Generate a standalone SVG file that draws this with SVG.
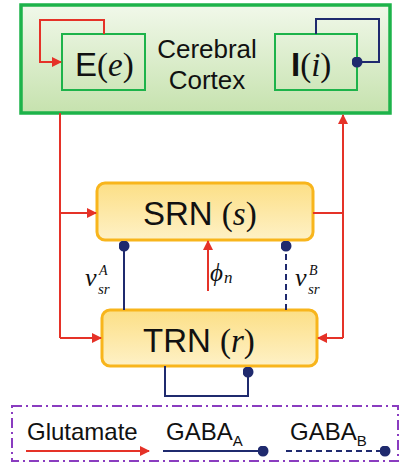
<svg xmlns="http://www.w3.org/2000/svg" width="402" height="464" viewBox="0 0 402 464">
<defs>
<linearGradient id="gGreen" x1="0" y1="0" x2="0" y2="1">
<stop offset="0" stop-color="#f1f8ea"/><stop offset="1" stop-color="#c6e2ae"/>
</linearGradient>
<linearGradient id="gYel" x1="0" y1="0" x2="0" y2="1">
<stop offset="0" stop-color="#fcdf86"/><stop offset="1" stop-color="#fef1c6"/>
</linearGradient>
<marker id="arr" viewBox="0 0 10 10" refX="9" refY="5" markerWidth="10" markerHeight="10" markerUnits="userSpaceOnUse" orient="auto">
<path d="M0,0 L10,5 L0,10 Z" fill="#e53228"/>
</marker>
<marker id="dot" viewBox="0 0 10 10" refX="5" refY="5" markerWidth="11" markerHeight="11" markerUnits="userSpaceOnUse">
<circle cx="5" cy="5" r="5" fill="#1f2a6e"/>
</marker>
</defs>
<style>
.sans{font-family:"Liberation Sans",Arial,sans-serif;fill:#111}
.math{font-family:"Liberation Serif","DejaVu Serif",serif;fill:#111}
.it{font-style:italic}
.red{stroke:#e53228;stroke-width:2;fill:none}
.blue{stroke:#1f2a6e;stroke-width:2;fill:none}
.dash{stroke-dasharray:6,4}
.gbox{stroke:#1db34a;fill:none}
.ybox{stroke:#f8b51c;stroke-width:3;fill:url(#gYel)}
</style>

<g id="cortex">
<rect x="21" y="5" width="369" height="108" fill="url(#gGreen)" stroke="#1db34a" stroke-width="3.5"/>
<text class="sans" x="207" y="58" font-size="26" text-anchor="middle">Cerebral</text>
<text class="sans" x="207" y="89" font-size="26" text-anchor="middle">Cortex</text>
</g>
<g id="E">
<rect class="gbox" x="62" y="34" width="83" height="56" stroke-width="2"/>
<text x="75" y="76" font-size="33"><tspan class="sans">E</tspan><tspan class="math">(</tspan><tspan class="math it">e</tspan><tspan class="math">)</tspan></text>
</g>
<g id="I">
<rect class="gbox" x="275" y="34" width="82" height="56" stroke-width="2"/>
<text x="291" y="76" font-size="33"><tspan class="sans" font-weight="bold">I</tspan><tspan class="math">(</tspan><tspan class="math it">i</tspan><tspan class="math">)</tspan></text>
</g>
<g id="SRN">
<rect class="ybox" x="97" y="183" width="216" height="57" rx="8"/>
<text x="143" y="225" font-size="33"><tspan class="sans">SRN </tspan><tspan class="math">(</tspan><tspan class="math it">s</tspan><tspan class="math">)</tspan></text>
</g>
<g id="TRN">
<rect class="ybox" x="102" y="310" width="215" height="56" rx="8"/>
<text x="143" y="352" font-size="33"><tspan class="sans">TRN </tspan><tspan class="math">(</tspan><tspan class="math it">r</tspan><tspan class="math">)</tspan></text>
</g>

<g id="connectors">
<path class="red" d="M104,34 V20 H40 V62 H61" marker-end="url(#arr)"/>
<path class="blue" d="M316,34 V19 H379 V62 H357" marker-end="url(#dot)"/>
<path class="red" d="M60,113 V338"/>
<path class="red" d="M60,213 H96" marker-end="url(#arr)"/>
<path class="red" d="M60,338 H101" marker-end="url(#arr)"/>
<path class="red" d="M313,213 H343"/>
<path class="red" d="M343,338 V115" marker-end="url(#arr)"/>
<path class="red" d="M343,338 H318" marker-end="url(#arr)"/>
<path class="red" d="M208,291 V241" marker-end="url(#arr)"/>
<path class="blue" d="M124,310 V246" marker-end="url(#dot)"/>
<path class="blue dash" d="M286,310 V246" marker-end="url(#dot)"/>
<path class="blue" d="M165,366 V396 H248 V372" marker-end="url(#dot)"/>
</g>
<g id="labels">
<text class="math it" x="85" y="286" font-size="26">v</text>
<text class="math it" x="99" y="275" font-size="14">A</text>
<text class="math it" x="98" y="294" font-size="15">sr</text>
<text class="math it" x="210" y="281" font-size="25">ϕ</text>
<text class="math it" x="224" y="283" font-size="17">n</text>
<text class="math it" x="295" y="286" font-size="26">v</text>
<text class="math it" x="309" y="275" font-size="14">B</text>
<text class="math it" x="308" y="294" font-size="15">sr</text>
</g>

<g id="legend">
<rect x="12" y="406" width="386" height="55" fill="none" stroke="#8a3cc0" stroke-width="2" stroke-dasharray="10,4,2,4"/>
<text class="sans" x="27" y="440" font-size="24">Glutamate</text>
<path class="red" d="M26,451 H149" marker-end="url(#arr)"/>
<text class="sans" x="166" y="440" font-size="24">GABA<tspan font-size="15" dy="6">A</tspan></text>
<path class="blue" d="M163,451 H263" marker-end="url(#dot)"/>
<text class="sans" x="290" y="440" font-size="24">GABA<tspan font-size="15" dy="6">B</tspan></text>
<path class="blue dash" d="M286,451 H385" marker-end="url(#dot)"/>
</g>
</svg>
